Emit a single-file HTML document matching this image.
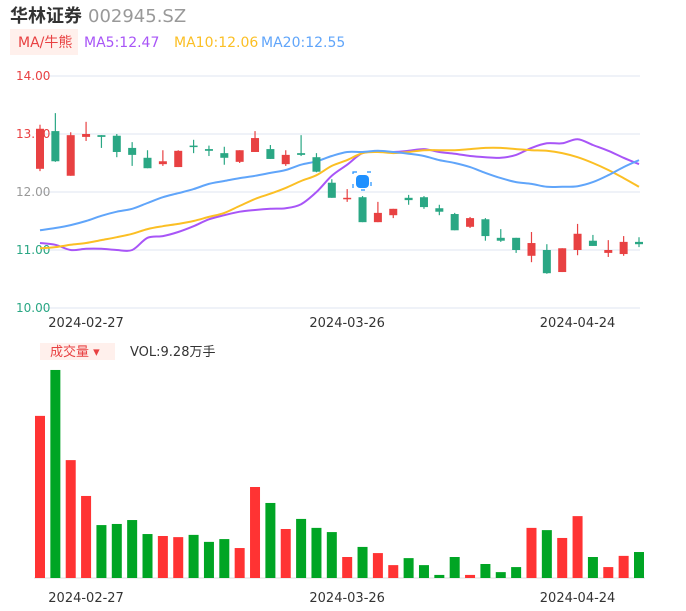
<!DOCTYPE html>
<html><head><meta charset="utf-8"><style>
body{margin:0;background:#fff;width:686px;height:606px;overflow:hidden;font-family:"Liberation Sans","Noto Sans CJK SC",sans-serif;}
svg text{font-family:"DejaVu Sans","Liberation Sans","Noto Sans CJK SC",sans-serif;}
</style></head><body>
<svg id="c" width="686" height="606" xmlns="http://www.w3.org/2000/svg">
<text x="10" y="22" font-size="18" font-weight="bold" fill="#333">华林证券</text>
<text x="88" y="22" font-size="18" fill="#999">002945.SZ</text>
<rect x="10" y="29" width="68" height="26" fill="#fff0ec"/>
<text x="18" y="47" font-size="14" fill="#e84142">MA/牛熊</text>
<text x="84" y="47" font-size="14" fill="#a855f7">MA5:12.47</text>
<text x="174" y="47" font-size="14" fill="#fbbf24">MA10:12.06</text>
<text x="261" y="47" font-size="14" fill="#60a5fa">MA20:12.55</text>
<rect x="40" y="343" width="75" height="17" fill="#fff0ec"/>
<text x="50" y="356" font-size="13" fill="#e84142">成交量 ▾</text>
<text x="130" y="356" font-size="13" fill="#333">VOL:9.28万手</text>
<g id="grid"></g><g id="lines"></g><g id="candles"></g><g id="vols"></g><g id="xl"></g>
<g>
<rect x="353" y="172" width="18" height="18" fill="none" stroke="#1e90ff" stroke-dasharray="4 10" stroke-width="1.2"/>
<rect x="356" y="175" width="13" height="13" rx="4" fill="#1e90ff"/></g>
</svg>
<script>
const opens=[12.40,13.05,12.28,12.95,12.98,12.97,12.76,12.59,12.48,12.43,12.80,12.74,12.67,12.52,12.69,12.74,12.48,12.67,12.60,12.16,11.88,11.91,11.48,11.60,11.90,11.91,11.72,11.62,11.40,11.53,11.21,11.21,10.90,11.00,10.62,11.00,11.16,10.95,10.93,11.14];
const closes=[13.09,12.53,12.98,13.00,12.95,12.69,12.64,12.41,12.53,12.71,12.78,12.71,12.59,12.72,12.93,12.57,12.64,12.64,12.35,11.90,11.90,11.48,11.64,11.71,11.86,11.74,11.66,11.34,11.55,11.24,11.16,11.00,11.12,10.60,11.03,11.28,11.07,11.00,11.14,11.10];
const highs=[13.16,13.36,13.03,13.21,12.98,13.00,12.86,12.72,12.72,12.72,12.90,12.80,12.78,12.72,13.05,12.81,12.72,12.98,12.67,12.22,12.05,11.93,11.83,11.71,11.95,11.93,11.78,11.64,11.57,11.55,11.36,11.21,11.31,11.10,11.03,11.45,11.26,11.17,11.24,11.22];
const lows=[12.36,12.52,12.28,12.88,12.76,12.60,12.45,12.41,12.45,12.43,12.67,12.62,12.47,12.50,12.69,12.57,12.45,12.62,12.34,11.90,11.83,11.48,11.48,11.55,11.78,11.71,11.60,11.34,11.38,11.16,11.14,10.95,10.79,10.59,10.62,10.91,11.07,10.88,10.90,11.05];
const ma5=[11.12,11.09,11.00,11.02,11.02,11.00,11.00,11.21,11.24,11.31,11.41,11.53,11.60,11.66,11.69,11.71,11.72,11.79,12.00,12.28,12.47,12.67,12.69,12.69,12.71,12.74,12.69,12.66,12.62,12.60,12.59,12.64,12.76,12.84,12.84,12.91,12.81,12.71,12.59,12.48];
const ma10=[11.03,11.05,11.09,11.12,11.17,11.22,11.28,11.36,11.41,11.45,11.50,11.57,11.64,11.76,11.88,11.97,12.07,12.19,12.29,12.45,12.55,12.67,12.69,12.67,12.69,12.72,12.72,12.72,12.74,12.76,12.76,12.74,12.72,12.71,12.67,12.60,12.50,12.38,12.24,12.09];
const ma20=[11.34,11.38,11.43,11.50,11.59,11.66,11.71,11.81,11.91,11.98,12.05,12.14,12.19,12.24,12.28,12.33,12.38,12.47,12.53,12.62,12.69,12.69,12.71,12.69,12.66,12.62,12.55,12.50,12.43,12.33,12.24,12.17,12.14,12.09,12.09,12.10,12.17,12.29,12.43,12.55];
const vols=[57.9,74.3,42.1,29.3,18.9,19.3,20.7,15.7,15,14.6,15.4,12.9,13.9,10.7,32.5,26.8,17.5,21.1,17.9,16.4,7.5,11.1,8.9,4.6,7.1,4.6,1.1,7.5,1.1,5,2.1,3.9,17.9,17.1,14.3,22.1,7.5,3.9,7.9,9.28];
const priceTicks=[14,13,12,11,10];
const tickColors=["#e84142","#e84142","#999","#2aa784","#2aa784"];
const xLabels=["2024-02-27","2024-03-26","2024-04-24"];
const xLabelIdx=[3,20,35];
const NS="http://www.w3.org/2000/svg";
const X=i=>40+i*(599/39);
const Y=p=>76+(14-p)*58;
const VB=578, VS=2.8;
const V=v=>VB-v*VS;
function mk(tag,attrs,parent){const e=document.createElementNS(NS,tag);for(const k in attrs)e.setAttribute(k,attrs[k]);document.getElementById(parent).appendChild(e);return e;}
function smooth(pts){let d='M'+pts[0][0]+','+pts[0][1];for(let i=0;i<pts.length-1;i++){const p0=pts[Math.max(0,i-1)],p1=pts[i],p2=pts[i+1],p3=pts[Math.min(pts.length-1,i+2)];const c1=[p1[0]+(p2[0]-p0[0])/6,p1[1]+(p2[1]-p0[1])/6],c2=[p2[0]-(p3[0]-p1[0])/6,p2[1]-(p3[1]-p1[1])/6];d+=' C'+c1.join(',')+' '+c2.join(',')+' '+p2.join(',');}return d;}
priceTicks.forEach((t,i)=>{
 const l=mk('line',{x1:40,x2:640,y1:Y(t),y2:Y(t),stroke:'#dfe4f0','stroke-width':1},'grid');
 
 
 const tx=mk('text',{x:16,y:Y(t)+4,'font-size':12,fill:tickColors[i]},'grid');tx.textContent=t.toFixed(2);
 
 
});
const vl=mk('line',{x1:34,x2:645,y1:VB,y2:VB,stroke:'#ddd'},'grid');


[[ma5,'#a855f7','ma5-line'],[ma10,'#fbbf24','ma10-line'],[ma20,'#60a5fa','ma20-line']].forEach(([arr,c,n])=>{
 const p=mk('path',{d:smooth(arr.map((v,i)=>[+X(i).toFixed(1),+Y(v).toFixed(1)])),fill:'none',stroke:c,'stroke-width':2,'stroke-linejoin':'round'},'lines');
 
 
});
opens.forEach((o,i)=>{
 const c=closes[i],up=c>=o,col=up?'#e84142':'#2aa784',x=X(i);
 const g=mk('g',{},'candles');
 
 
 const w=document.createElementNS(NS,'line');
 [['x1',x],['x2',x],['y1',Y(highs[i])],['y2',Y(lows[i])],['stroke',col],['stroke-width',1.2]].forEach(a=>w.setAttribute(a[0],a[1]));g.appendChild(w);
 const r=document.createElementNS(NS,'rect');
 const top=Y(Math.max(o,c)),h=Math.max(1.5,Math.abs(Y(o)-Y(c)));
 [['x',x-4],['y',top],['width',8],['height',h],['fill',col]].forEach(a=>r.setAttribute(a[0],a[1]));g.appendChild(r);
 const vc=up?'#ff3333':'#00a524';
 const b=mk('rect',{x:x-5,y:V(vols[i]),width:10,height:VB-V(vols[i]),fill:vc},'vols');
 
 
});
xLabels.forEach((s,k)=>{
 [322,597].forEach(y=>{
  const t=mk('text',{x:X(xLabelIdx[k]),y:y+5,'font-size':13,fill:'#333','text-anchor':'middle'},'xl');t.textContent=s;
  
  
 });
});
</script>
</body></html>
